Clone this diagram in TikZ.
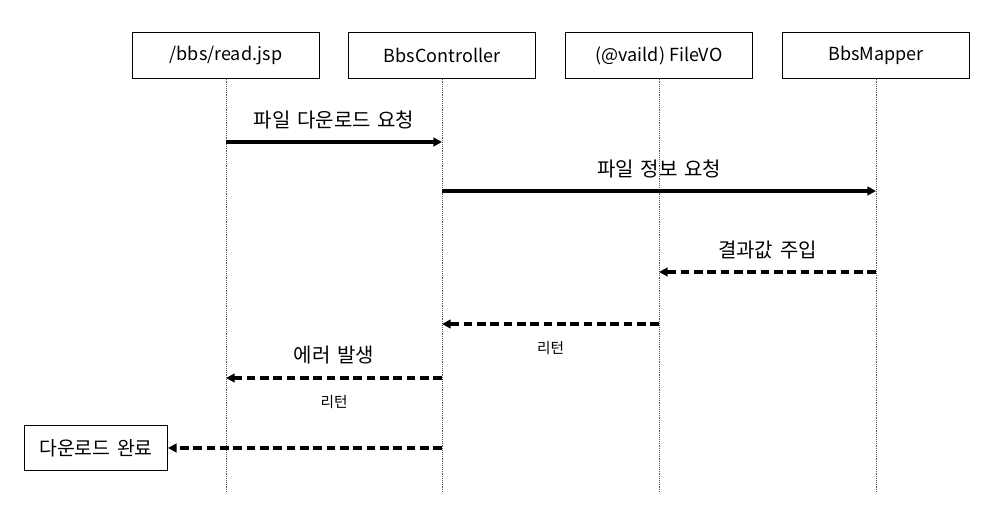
\documentclass[tikz,border=0pt]{standalone}
\usepackage{fontspec}
\setmainfont{Noto Sans CJK KR}
\newfontfamily\widefont[WordSpace=1.5]{Noto Sans CJK KR}
\usetikzlibrary{arrows.meta}
\tikzset{
  obj/.style={draw, line width=0.8pt, minimum width=140pt, minimum height=34pt, inner sep=0pt, font=\fontsize{13.5}{16}\selectfont},
  life/.style={gray!70!black, line width=0.4pt, densely dotted},
  call/.style={line width=2.3pt, -{Triangle[length=6.5pt,width=6.5pt]}},
  reply/.style={call, dash pattern=on 6.5pt off 3.5pt},
  lbl/.style={font=\widefont\fontsize{15}{18}\selectfont},
  sub/.style={font=\fontsize{11}{13}\selectfont}
}
\newcommand{\point}[3]{\coordinate (#1-#3) at (#1 |- 0,#2);}
\begin{document}
\begin{tikzpicture}[x=0.75pt, y=-0.75pt]
    \useasboundingbox (0,0) rectangle (1004,516);
    % objects
    \node[obj] (jsp) at (226,55.5) {/bbs/read.jsp};
    \node[obj] (ctrl) at (442,55.5) {BbsController};
    \node[obj] (vo) at (659,55.5) {(@vaild) FileVO};
    \node[obj] (mapper) at (876,55.5) {BbsMapper};
    % lifelines
    \foreach \o in {jsp,ctrl,vo,mapper}{
        \coordinate (\o-end) at (\o.south |- 0,492);
        \draw[life] (\o.south) -- (\o-end);
    }
    % points
    \point{jsp}{142}{a} \point{ctrl}{142}{a}
    \point{ctrl}{191}{b} \point{mapper}{191}{b}
    \point{mapper}{272}{c} \point{vo}{272}{c}
    \point{vo}{324}{d} \point{ctrl}{324}{d}
    \point{ctrl}{378}{e} \point{jsp}{378}{e}
    \point{ctrl}{448}{f}
    \node[obj, minimum width=107pt, font=\widefont\fontsize{14.5}{17}\selectfont] (done) at (96,448) {다운로드 완료};
    % messages
    \draw[call] (jsp-a) -- node[lbl, above=5pt] {파일 다운로드 요청} (ctrl-a);
    \draw[call] (ctrl-b) -- node[lbl, above=5pt] {파일 정보 요청} (mapper-b);
    \draw[reply] (mapper-c) -- node[lbl, above=5pt] {결과값 주입} (vo-c);
    \draw[reply] (vo-d) -- node[sub, below=8.5pt] {리턴} (ctrl-d);
    \draw[reply] (ctrl-e) -- node[lbl, above=6pt] {에러 발생} node[sub, below=8.5pt] {리턴} (jsp-e);
    \draw[reply] (ctrl-f) -- (done.east);
\end{tikzpicture}
\end{document}
